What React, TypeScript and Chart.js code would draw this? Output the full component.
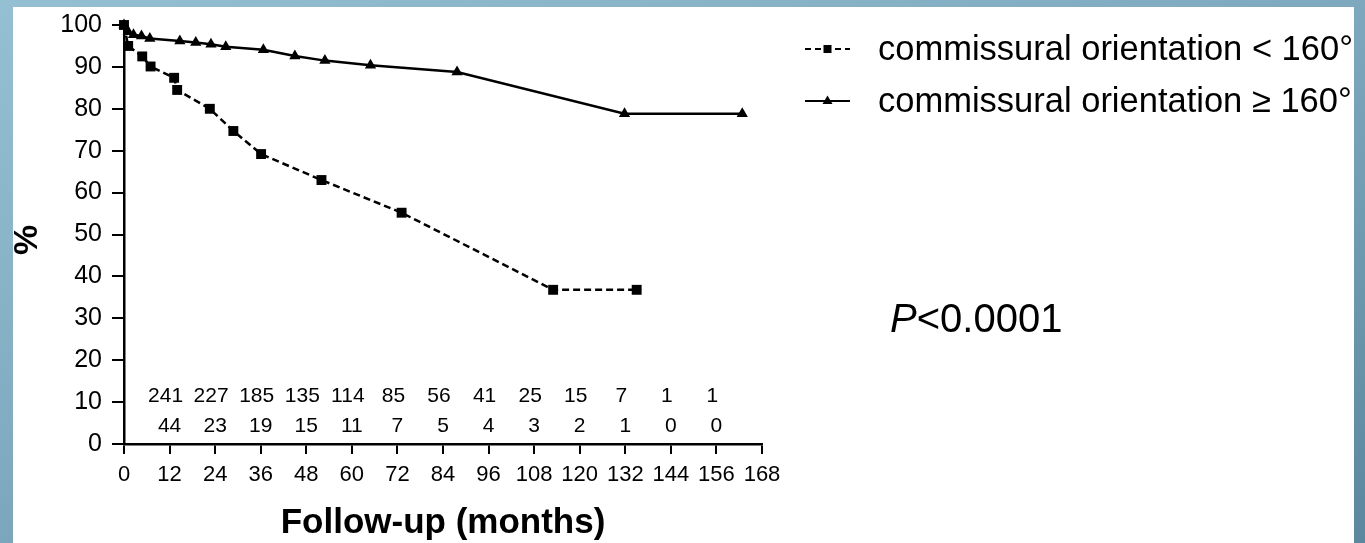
import React, { useEffect, useRef } from "react";
import { Chart, registerables } from "chart.js";

Chart.register(...registerables);

// ---- data ----
const monthsLow = [0, 1.1, 4.8, 7.0, 13.2, 14.0, 22.6, 28.8, 36.1, 52.0, 73.1, 113.0, 135.0];
const survivalLow = [100, 95.0, 92.5, 90.1, 87.4, 84.5, 80.0, 74.7, 69.2, 63.0, 55.2, 36.8, 36.8];

const monthsHigh = [0, 1.1, 2.5, 4.6, 6.8, 14.7, 18.9, 22.9, 26.8, 36.7, 45.0, 52.9, 64.9, 87.7, 131.8, 162.8];
const survivalHigh = [100, 98.4, 97.7, 97.4, 96.8, 96.2, 95.8, 95.4, 94.8, 94.1, 92.6, 91.5, 90.4, 88.8, 78.8, 78.8];

const riskMonths = [12, 24, 36, 48, 60, 72, 84, 96, 108, 120, 132, 144, 156];
const riskHigh = [241, 227, 185, 135, 114, 85, 56, 41, 25, 15, 7, 1, 1];
const riskLow = [44, 23, 19, 15, 11, 7, 5, 4, 3, 2, 1, 0, 0];

const seriesLabels = ["commissural orientation < 160°", "commissural orientation ≥ 160°"];
const xTitle = "Follow-up (months)";
const yTitle = "%";
const pLetter = "P";
const pRest = "<0.0001";

const FONT = '"Liberation Sans", Arial, Helvetica, sans-serif';

export default function App() {
  const ref = useRef<HTMLCanvasElement | null>(null);

  useEffect(() => {
    if (!ref.current) return;

    const annotations = {
      id: "annotations",
      afterDraw(chart: any) {
        const { ctx, chartArea, scales } = chart;
        const xs = scales.x;
        ctx.save();
        ctx.fillStyle = "#000";
        ctx.strokeStyle = "#000";

        // numbers at risk
        ctx.textAlign = "center";
        ctx.textBaseline = "middle";
        ctx.font = `21px ${FONT}`;
        riskMonths.forEach((m, i) => {
          const px = xs.getPixelForValue(m);
          ctx.fillText(String(riskHigh[i]), px - 4, chartArea.bottom - 48);
          ctx.fillText(String(riskLow[i]), px, chartArea.bottom - 18);
        });

        // y title
        ctx.save();
        ctx.translate(15, 240);
        ctx.rotate(-Math.PI / 2);
        ctx.font = `bold 34px ${FONT}`;
        ctx.fillText(yTitle, 0, 0);
        ctx.restore();

        // legend
        const lx0 = 792;
        const lx1 = 837;
        const lmid = (lx0 + lx1) / 2;
        const rows = [49, 101];
        ctx.lineWidth = 2;
        // row 1 dashed + square
        ctx.setLineDash([6, 4]);
        ctx.beginPath();
        ctx.moveTo(lx0, rows[0]);
        ctx.lineTo(lx1, rows[0]);
        ctx.stroke();
        ctx.setLineDash([]);
        ctx.fillRect(lmid - 4, rows[0] - 4, 8, 8);
        // row 2 solid + triangle
        ctx.beginPath();
        ctx.moveTo(lx0, rows[1]);
        ctx.lineTo(lx1, rows[1]);
        ctx.stroke();
        ctx.beginPath();
        ctx.moveTo(lmid, rows[1] - 5.5);
        ctx.lineTo(lmid + 5, rows[1] + 3);
        ctx.lineTo(lmid - 5, rows[1] + 3);
        ctx.closePath();
        ctx.fill();

        ctx.textAlign = "left";
        ctx.textBaseline = "alphabetic";
        ctx.font = `34.5px ${FONT}`;
        ctx.fillText(seriesLabels[0], 865, 60);
        ctx.fillText(seriesLabels[1], 865, 112);

        // p-value
        ctx.font = `italic 40px ${FONT}`;
        ctx.fillText(pLetter, 877, 332);
        const w = ctx.measureText(pLetter).width;
        ctx.font = `40px ${FONT}`;
        ctx.fillText(pRest, 877 + w, 332);

        ctx.restore();
      },
    };

    const chart = new Chart(ref.current, {
      type: "line",
      data: {
        datasets: [
          {
            label: seriesLabels[0],
            data: monthsLow.map((m, i) => ({ x: m, y: survivalLow[i] })),
            borderColor: "#000",
            backgroundColor: "#000",
            borderWidth: 2.5,
            borderDash: [7, 4],
            pointStyle: "rect",
            pointRadius: 7,
            pointBorderWidth: 0,
            pointBackgroundColor: "#000",
            tension: 0,
            clip: false as any,
          },
          {
            label: seriesLabels[1],
            data: monthsHigh.map((m, i) => ({ x: m, y: survivalHigh[i] })),
            borderColor: "#000",
            backgroundColor: "#000",
            borderWidth: 2.5,
            pointStyle: "triangle",
            pointRadius: 6.5,
            pointBorderWidth: 0,
            pointBackgroundColor: "#000",
            tension: 0,
            clip: false as any,
          },
        ],
      },
      options: {
        responsive: false,
        animation: false,
        layout: { padding: { top: 18, right: 592, bottom: 0, left: 0 } },
        plugins: {
          legend: { display: false },
          tooltip: { enabled: false },
        },
        scales: {
          x: {
            type: "linear",
            min: 0,
            max: 168,
            afterFit: (s: any) => {
              s.height = 99;
            },
            ticks: {
              stepSize: 12,
              color: "#000",
              font: { family: FONT, size: 22 },
              padding: 8,
              maxRotation: 0,
              autoSkip: false,
            },
            grid: {
              drawOnChartArea: false,
              drawTicks: true,
              tickLength: 10,
              color: "#000",
              lineWidth: 2,
            },
            border: { display: true, color: "#000", width: 2.5 },
            title: {
              display: true,
              text: xTitle,
              color: "#000",
              font: { family: FONT, size: 35, weight: "bold", lineHeight: 1.1 },
              padding: { top: 0, bottom: 0 },
            },
          },
          y: {
            type: "linear",
            min: 0,
            max: 100,
            afterFit: (s: any) => {
              s.width = 111;
            },
            ticks: {
              stepSize: 10,
              color: "#000",
              font: { family: FONT, size: 25 },
              padding: 10,
            },
            grid: {
              drawOnChartArea: false,
              drawTicks: true,
              tickLength: 12,
              color: "#000",
              lineWidth: 2,
            },
            border: { display: true, color: "#000", width: 2.5 },
          },
        },
      },
      plugins: [annotations],
    } as any);

    return () => chart.destroy();
  }, []);

  return (
    <div
      style={{
        position: "fixed",
        inset: 0,
        background: "linear-gradient(160deg, #95bfd2 0%, #80aabf 45%, #5b889f 100%)",
        overflow: "hidden",
      }}
    >
      <div
        style={{
          position: "absolute",
          left: 13,
          top: 7,
          width: 1341,
          height: 536,
          background: "#fff",
        }}
      />
      <canvas
        ref={ref}
        width={1341}
        height={543}
        style={{ position: "absolute", left: 13, top: 0, width: 1341, height: 543 }}
      />
    </div>
  );
}
